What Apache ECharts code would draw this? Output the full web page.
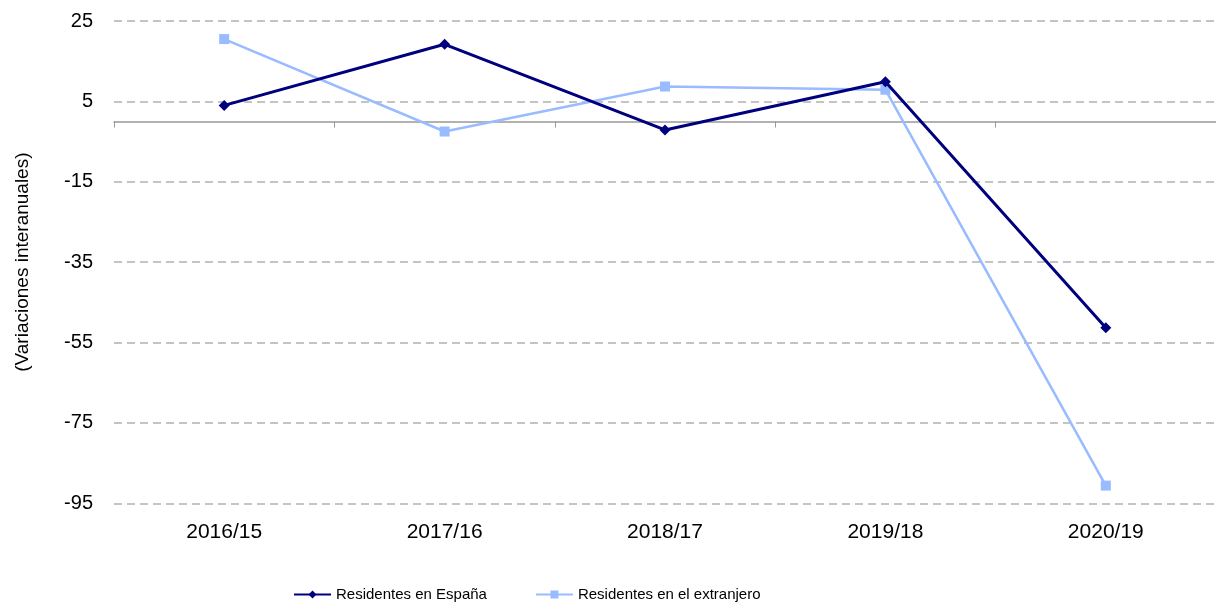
<!DOCTYPE html>
<html>
<head>
<meta charset="utf-8">
<script src="https://cdn.jsdelivr.net/npm/echarts@6/dist/echarts.min.js"></script>
<style>
	html, body { margin: 0; padding: 0; background: #fff; }
	#mainchart { width: 1216px; height: 604px; }
</style>
</head>
<body>
<div id="mainchart"></div>
<script>
	// datos
	var categorias = ['2016/15', '2017/16', '2018/17', '2019/18', '2020/19'];
	var residentesEspana = [4.0, 19.2, -2.1, 9.9, -51.3];
	var residentesExtranjero = [20.5, -2.5, 8.7, 7.9, -90.6];
	var yTicks = [-95, -75, -55, -35, -15, 5, 25];

	var fuente = '"Liberation Sans", Arial, Helvetica, sans-serif';
	var myChart = echarts.init(document.getElementById('mainchart'), null, { renderer: 'canvas' });

	var option = {
		animation: false,
		backgroundColor: '#ffffff',
		color: ['#00007f', '#99bbff'],
		grid: {
			left: 114,
			right: 0,
			top: 21,
			bottom: 100.7,
			containLabel: false,
			outerBoundsMode: 'none'
		},
		legend: {
			left: 293,
			top: 587,
			padding: 0,
			itemWidth: 37,
			itemHeight: 10,
			itemGap: 48,
			textStyle: {
				fontFamily: fuente,
				fontSize: 15,
				color: '#000'
			},
			data: ['Residentes en España', 'Residentes en el extranjero']
		},
		xAxis: [
			{
				// linea del eje en cero
				type: 'category',
				position: 'bottom',
				data: categorias,
				boundaryGap: true,
				axisLine: { show: true, onZero: true, lineStyle: { color: '#999999', width: 1.5 } },
				axisTick: { show: true, length: 6, lineStyle: { color: '#999999', width: 1 } },
				axisLabel: { show: false },
				splitLine: { show: false }
			},
			{
				// etiquetas abajo
				type: 'category',
				position: 'bottom',
				data: categorias,
				boundaryGap: true,
				axisLine: { show: false, onZero: false },
				axisTick: { show: false },
				axisLabel: {
					show: true,
					margin: 18,
					fontFamily: fuente,
					fontSize: 21,
					color: '#000'
				},
				splitLine: { show: false }
			}
		],
		yAxis: {
			type: 'value',
			min: -95,
			max: 25,
			name: '(Variaciones interanuales)',
			nameLocation: 'middle',
			nameRotate: 90,
			nameGap: 82,
			nameTextStyle: {
				fontFamily: fuente,
				fontSize: 19,
				color: '#000'
			},
			axisLine: { show: false },
			axisTick: { show: false, customValues: yTicks },
			axisLabel: {
				customValues: yTicks,
				margin: 21,
				fontFamily: fuente,
				fontSize: 20,
				color: '#000'
			},
			splitLine: {
				show: true,
				lineStyle: { color: '#c4c4c4', width: 2, type: [8, 5] }
			}
		},
		series: [
			{
				name: 'Residentes en España',
				type: 'line',
				xAxisIndex: 0,
				data: residentesEspana,
				symbol: 'diamond',
				symbolSize: 11,
				showAllSymbol: true,
				lineStyle: { width: 3 },
				z: 3
			},
			{
				name: 'Residentes en el extranjero',
				type: 'line',
				xAxisIndex: 0,
				data: residentesExtranjero,
				symbol: 'rect',
				symbolSize: 10,
				showAllSymbol: true,
				lineStyle: { width: 2.5 },
				z: 2
			}
		]
	};

	myChart.setOption(option, true);
</script>
</body>
</html>
